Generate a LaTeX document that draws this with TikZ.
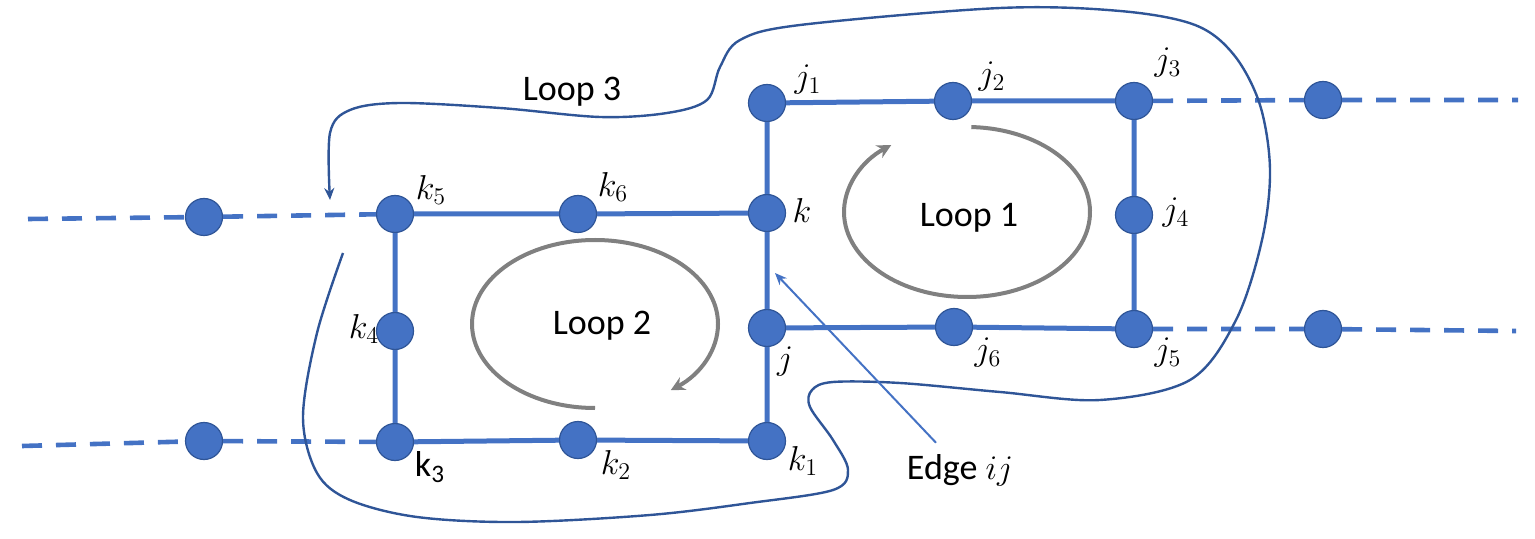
\documentclass[tikz,border=0pt]{standalone}
\usepackage{fontspec}
\setmainfont{Carlito}
\usetikzlibrary{positioning,arrows.meta,calc}
\definecolor{nodeblue}{RGB}{68,114,196}
\definecolor{rimblue}{RGB}{47,85,151}
\definecolor{loopgray}{RGB}{128,128,128}

\begin{document}
\begin{tikzpicture}[
  x=0.5pt,y=-0.5pt,
  font=\fontsize{18}{20}\selectfont,
  vtx/.style={circle,fill=nodeblue,draw=rimblue,line width=0.6pt,inner sep=0pt,minimum size=18.5pt},
  edg/.style={nodeblue,line width=2.5pt},
  ext/.style={nodeblue,line width=2.3pt,dash pattern=on 10pt off 7pt},
  lbl/.style={inner sep=0pt},
  circ/.style={loopgray,line width=2pt,-{Stealth[length=7pt,width=7pt]}},
  cyc/.style={rimblue,line width=1.2pt,-{Stealth[length=6pt,width=5pt]}},
  ar/.style={nodeblue,line width=1pt,-{Stealth[length=6pt,width=5pt]}},
]
\useasboundingbox (0,0) rectangle (1535,539);

% vertices
\node[vtx] (k5) at (395,214) {};
\node[vtx] (k6) at (578,214) {};
\node[vtx] (k)  at (767,213) {};
\node[vtx] (j1) at (767,103) {};
\node[vtx] (j2) at (953,101) {};
\node[vtx] (j3) at (1134,101) {};
\node[vtx] (j4) at (1134,215) {};
\node[vtx] (j5) at (1134,329) {};
\node[vtx] (j6) at (954,327) {};
\node[vtx] (j)  at (767,328) {};
\node[vtx] (k1) at (767,441) {};
\node[vtx] (k2) at (578,440) {};
\node[vtx] (k3) at (395,442) {};
\node[vtx] (k4) at (395,331) {};
\node[vtx] (lt) at (204,217) {};
\node[vtx] (lb) at (204,441) {};
\node[vtx] (rt) at (1323,100) {};
\node[vtx] (rb) at (1323,329) {};
\coordinate (ltend) at (28,219);
\coordinate (lbend) at (22,446);
\coordinate (rtend) at (1518,100);
\coordinate (rbend) at (1516,331);

% edges
\draw[edg] (k5)--(k6)--(k)--(j1)--(j2)--(j3)--(j4)--(j5)--(j6)--(j)--(k);
\draw[edg] (j)--(k1)--(k2)--(k3)--(k4)--(k5);
\draw[ext] (ltend)--(lt)--(k5);
\draw[ext] (lbend)--(lb)--(k3);
\draw[ext] (j3)--(rt)--(rtend);
\draw[ext] (j5)--(rb)--(rbend);

% labels
\node[lbl] (lj1) at ($(j1)+(41,-23)$) {$j_1$};
\node[lbl] (lj2) at ($(j2)+(39,-24)$) {$j_2$};
\node[lbl] (lj3) at ($(j3)+(34,-38)$) {$j_3$};
\node[lbl] (lj4) at ($(j4)+(42,-2)$) {$j_4$};
\node[lbl] (lj5) at ($(j5)+(34,24)$) {$j_5$};
\node[lbl] (lj6) at ($(j6)+(34,26)$) {$j_6$};
\node[lbl] (lj)  at ($(j)+(18,34)$) {$j$};
\node[lbl] (lk)  at ($(k)+(35,-2)$) {$k$};
\node[lbl] (lk1) at ($(k1)+(36,20)$) {$k_1$};
\node[lbl] (lk2) at ($(k2)+(38,25)$) {$k_2$};
\node[lbl] (lk3) at ($(k3)+(35,25)$) {k\textsubscript{3}};
\node[lbl] (lk4) at ($(k4)+(-31,-2)$) {$k_4$};
\node[lbl] (lk5) at ($(k5)+(36,-24)$) {$k_5$};
\node[lbl] (lk6) at ($(k6)+(35,-27)$) {$k_6$};

% loops
\coordinate (c1) at (967,212);
\coordinate (c2) at (595,324);
\draw[circ] ($(c1)+(272:123 and 85)$) arc[start angle=272,end angle=592,x radius=123,y radius=85];
\draw[circ] ($(c2)+(90:123 and 84)$) arc[start angle=90,end angle=412,x radius=123,y radius=84];
\node[lbl] (loop1) at (969,218) {Loop 1};
\node[lbl] (loop2) at (602,326) {Loop 2};
\node[lbl] (loop3) at (572,92) {Loop 3};
\draw[cyc] plot[smooth,tension=0.55] coordinates {(343,253) (317,333) (303,417) (317,473)
  (350,500) (417,517) (517,522) (650,515) (750,503) (833,490) (848,470) (833,440) (810,407)
  (812,390) (833,382) (900,383) (1000,392) (1100,400) (1190,380) (1236,320) (1262,240)
  (1270,170) (1260,105) (1234,55) (1195,25) (1120,11) (1000,8) (800,25) (740,40) (720,67)
  (707,100) (667,113) (600,117) (500,108) (400,103) (350,110) (330,133) (330,200)};

% edge ij
\node[lbl] (eij) at (960,470) {Edge $ij$};
\coordinate (tip) at (775,273);
\draw[ar] ([xshift=-12pt,yshift=5.5pt]eij.north) -- (tip);
\end{tikzpicture}
\end{document}
